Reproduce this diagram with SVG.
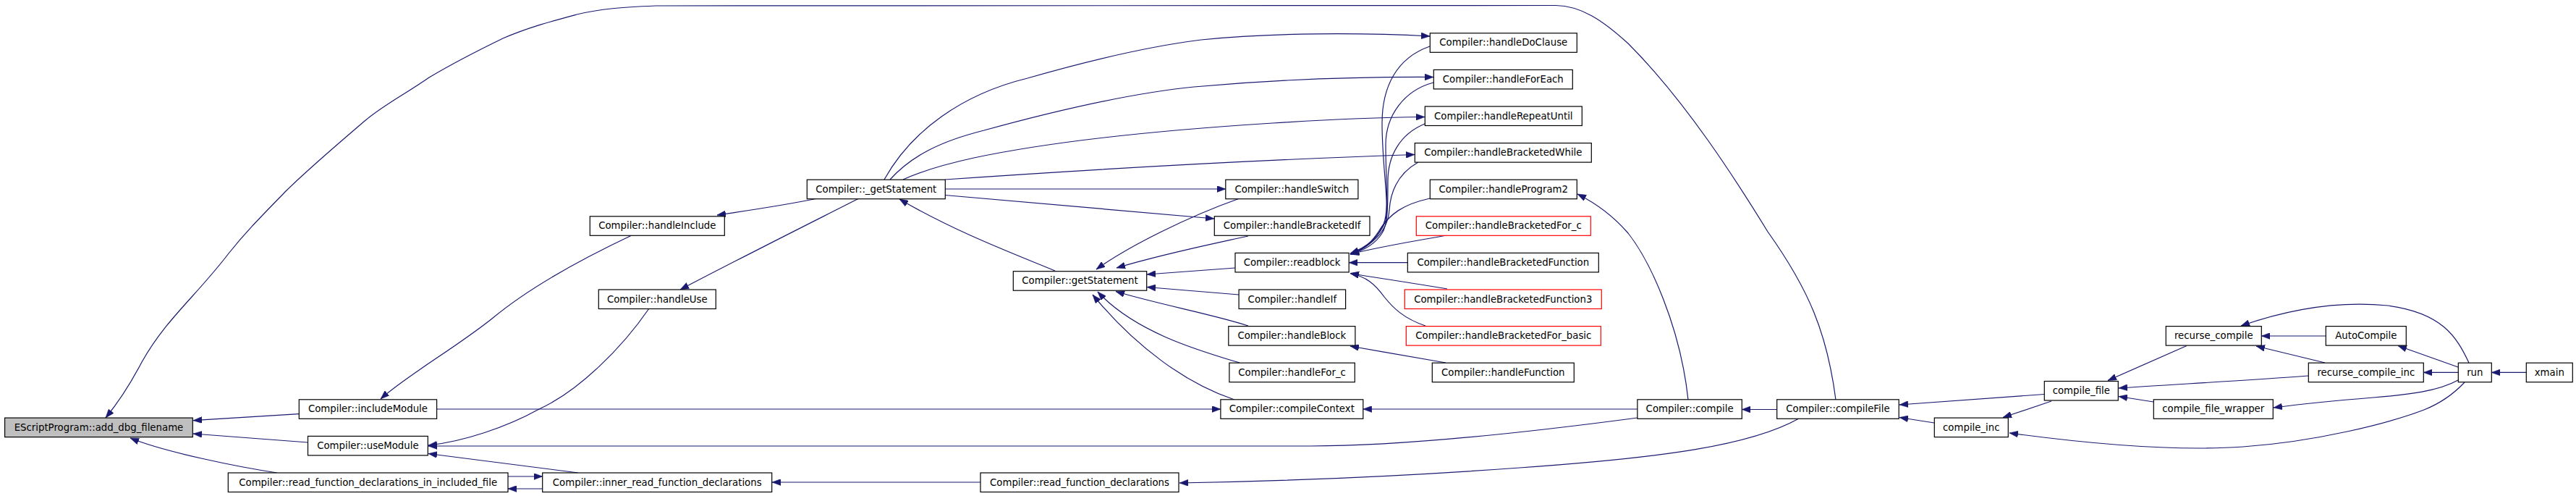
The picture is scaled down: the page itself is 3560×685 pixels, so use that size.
<svg xmlns="http://www.w3.org/2000/svg" width="3560" height="685" viewBox="0 0 3560 685">
<style>
.n rect{fill:#fff;stroke:#000;stroke-width:1.2}
.n.red rect{stroke:#ff0000}
.n.root rect{fill:#bfbfbf}
.n text{font-family:"DejaVu Sans","Liberation Sans",sans-serif;font-size:13.3px;text-anchor:middle;fill:#000}
#edges path{fill:none;stroke:#191970;stroke-width:1.2;marker-end:url(#a)}
</style>
<defs>
<marker id="a" markerUnits="userSpaceOnUse" markerWidth="12" markerHeight="9" viewBox="0 0 12 9" refX="12" refY="4.5" orient="auto">
<path d="M0,0 L12,4.5 L0,9 z" fill="#191970" stroke="#191970" stroke-width="0.5"/>
</marker>
</defs>
<rect width="3560" height="685" fill="#fff"/>
<g id="edges">
<path d="M413,571.7 L267,580.7"/>
<path d="M425.5,611 L267,599"/>
<path d="M383,653 C330,645 230,625 180,605"/>
<path d="M2537,552 C2525,460 2500,400 2443,320 C2400,250 2330,140 2250,60 C2215,28 2185,8 2150,7.5 L906,8 C860,10 830,12 797,20 C760,30 730,38 695,53 C660,70 630,85 593,107 C560,130 530,145 504,167 C460,205 430,230 396,263 C360,300 340,320 316,350 C270,410 230,440 196,500 C175,540 160,560 146,577"/>
<path d="M873,325 C820,350 740,390 680,440 C630,480 560,520 526,551"/>
<path d="M897,426 C860,480 800,540 745,565 C700,590 640,610 592,615"/>
<path d="M2263,577 C2150,592 1950,616 1811,616 L592,616"/>
<path d="M702,658 L749.7,658"/>
<path d="M749.7,675 L702,675"/>
<path d="M799,653 L592,626.5"/>
<path d="M1355,666 L1067,666"/>
<path d="M2486,578 C2420,615 2300,632 2100,646 C1950,657 1800,664 1630,667"/>
<path d="M1130,274 C1090,282 1040,290 991,297"/>
<path d="M1187,274 C1100,318 1020,358 940,400"/>
<path d="M1458,374 C1400,350 1320,320 1243,275"/>
<path d="M1222,248 C1260,180 1330,130 1420,108 C1500,85 1580,65 1660,55 C1760,45 1880,45 1976,50"/>
<path d="M1230,248 C1260,215 1300,195 1360,180 C1440,158 1550,130 1650,120 C1760,110 1880,106 1981,106.5"/>
<path d="M1248,248 C1270,238 1300,228 1346,218 C1450,196 1600,180 1759,170 C1850,164 1920,162 1969,161.5"/>
<path d="M1306,248 C1450,238 1700,222 1955,213.5"/>
<path d="M1306,261 L1693.8,261"/>
<path d="M1306,269.5 L1678,302"/>
<path d="M1713,274 C1640,300 1560,340 1515,372"/>
<path d="M1725,326 C1680,336 1610,350 1543,370"/>
<path d="M1707,370 L1585,379"/>
<path d="M1712,407 L1585,396.5"/>
<path d="M1725,450 C1680,435 1600,420 1542,402.5"/>
<path d="M1713,501 C1660,485 1570,460 1517,403"/>
<path d="M1706,552 C1640,530 1570,480 1510,407"/>
<path d="M1976,64 C1930,80 1910,120 1910,170 C1910,230 1920,280 1915,305 C1905,330 1885,343 1866,350"/>
<path d="M1981,114 C1940,125 1915,160 1915,200 C1915,250 1920,290 1912,310 C1900,335 1885,345 1866,351"/>
<path d="M1969,171 C1935,185 1918,215 1918,250 C1918,285 1918,310 1910,322 C1900,338 1885,346 1866,351"/>
<path d="M1960,224 C1935,238 1922,260 1920,290 C1918,320 1895,340 1866,351"/>
<path d="M1976,274 C1940,282 1920,295 1905,320 C1895,335 1885,345 1866,351"/>
<path d="M2000,325 C1960,332 1910,340 1866,351"/>
<path d="M1945,362.7 L1864.2,362.7"/>
<path d="M2000,399 C1960,392 1910,385 1866,377.5"/>
<path d="M1970,450 C1940,440 1925,425 1913,410 C1900,392 1888,382 1866,377.5"/>
<path d="M1998,501 C1960,494 1910,486 1866,478"/>
<path d="M603.6,565 L1686.9,565"/>
<path d="M2263,565 L1883.8,565"/>
<path d="M2333,552 C2322,450 2280,360 2250,322 C2225,293 2200,278 2180,268"/>
<path d="M2455.7,565.5 L2407.3,565.5"/>
<path d="M2825,544.5 L2625,559"/>
<path d="M2673,584 L2625,576.5"/>
<path d="M2835,554 L2768,576.5"/>
<path d="M3022,477.5 L2913,525.5"/>
<path d="M3190,519 C3100,526 3000,531 2928,536"/>
<path d="M2976,555 L2928,547.5"/>
<path d="M3214.3,464 L3125.3,464"/>
<path d="M3213,501 L3118,478"/>
<path d="M3412,501 C3395,465 3375,432 3300,422 C3230,415 3160,428 3097,450"/>
<path d="M3397,507 L3314,477.5"/>
<path d="M3397.3,514.4 L3349.3,514.4"/>
<path d="M3491.3,514.4 L3443.3,514.4"/>
<path d="M3397,525 C3370,540 3330,545 3280,549 C3230,553 3180,558 3142,563"/>
<path d="M3406,528 C3390,545 3370,558 3350,566 C3300,585 3200,610 3100,617 C3000,624 2880,612 2777,598"/>
</g>
<g id="n_add_dbg_filename" class="n root"><rect x="6.6" y="577.1" width="259.7" height="26.5"/><text x="136.45" y="594.6">EScriptProgram::add_dbg_filename</text></g>
<g id="n_includeModule" class="n"><rect x="413.3" y="551.8" width="190.3" height="26.5"/><text x="508.45" y="569.3">Compiler::includeModule</text></g>
<g id="n_useModule" class="n"><rect x="425.5" y="602.4" width="165.8" height="26.5"/><text x="508.4" y="619.9">Compiler::useModule</text></g>
<g id="n_read_in_included" class="n"><rect x="315.3" y="653" width="386.7" height="26.5"/><text x="508.65" y="670.5">Compiler::read_function_declarations_in_included_file</text></g>
<g id="n_inner_read" class="n"><rect x="749.7" y="653" width="317" height="26.5"/><text x="908.2" y="670.5">Compiler::inner_read_function_declarations</text></g>
<g id="n_read_fd" class="n"><rect x="1355" y="653" width="274" height="26.5"/><text x="1492" y="670.5">Compiler::read_function_declarations</text></g>
<g id="n_handleInclude" class="n"><rect x="815.3" y="298.8" width="186" height="26.5"/><text x="908.3" y="316.3">Compiler::handleInclude</text></g>
<g id="n_handleUse" class="n"><rect x="827.3" y="400" width="162" height="26.5"/><text x="908.3" y="417.5">Compiler::handleUse</text></g>
<g id="n__getStatement" class="n"><rect x="1115.3" y="248.2" width="191" height="26.5"/><text x="1210.8" y="265.7">Compiler::_getStatement</text></g>
<g id="n_getStatement" class="n"><rect x="1400.3" y="374.7" width="184.4" height="26.5"/><text x="1492.5" y="392.2">Compiler::getStatement</text></g>
<g id="n_handleSwitch" class="n"><rect x="1693.8" y="248.2" width="183.1" height="26.5"/><text x="1785.35" y="265.7">Compiler::handleSwitch</text></g>
<g id="n_handleBracketedIf" class="n"><rect x="1678.3" y="298.8" width="214.7" height="26.5"/><text x="1785.65" y="316.3">Compiler::handleBracketedIf</text></g>
<g id="n_readblock" class="n"><rect x="1707" y="349.4" width="157.2" height="26.5"/><text x="1785.6" y="366.9">Compiler::readblock</text></g>
<g id="n_handleIf" class="n"><rect x="1712.1" y="400" width="147.5" height="26.5"/><text x="1785.85" y="417.5">Compiler::handleIf</text></g>
<g id="n_handleBlock" class="n"><rect x="1697.8" y="450.6" width="175.1" height="26.5"/><text x="1785.35" y="468.1">Compiler::handleBlock</text></g>
<g id="n_handleFor_c" class="n"><rect x="1698.9" y="501.2" width="173.4" height="26.5"/><text x="1785.6" y="518.7">Compiler::handleFor_c</text></g>
<g id="n_compileContext" class="n"><rect x="1686.9" y="551.8" width="196.9" height="26.5"/><text x="1785.35" y="569.3">Compiler::compileContext</text></g>
<g id="n_handleDoClause" class="n"><rect x="1976.3" y="45.8" width="203" height="26.5"/><text x="2077.8" y="63.3">Compiler::handleDoClause</text></g>
<g id="n_handleForEach" class="n"><rect x="1981.3" y="96.4" width="192" height="26.5"/><text x="2077.3" y="113.9">Compiler::handleForEach</text></g>
<g id="n_handleRepeatUntil" class="n"><rect x="1969.3" y="147" width="217" height="26.5"/><text x="2077.8" y="164.5">Compiler::handleRepeatUntil</text></g>
<g id="n_handleBracketedWhile" class="n"><rect x="1955.3" y="197.6" width="244" height="26.5"/><text x="2077.3" y="215.1">Compiler::handleBracketedWhile</text></g>
<g id="n_handleProgram2" class="n"><rect x="1976.3" y="248.2" width="203" height="26.5"/><text x="2077.8" y="265.7">Compiler::handleProgram2</text></g>
<g id="n_handleBracketedFor_c" class="n red"><rect x="1957.3" y="298.8" width="241" height="26.5"/><text x="2077.8" y="316.3">Compiler::handleBracketedFor_c</text></g>
<g id="n_handleBracketedFunction" class="n"><rect x="1945.3" y="349.4" width="264" height="26.5"/><text x="2077.3" y="366.9">Compiler::handleBracketedFunction</text></g>
<g id="n_handleBracketedFunction3" class="n red"><rect x="1941.3" y="400" width="272" height="26.5"/><text x="2077.3" y="417.5">Compiler::handleBracketedFunction3</text></g>
<g id="n_handleBracketedFor_basic" class="n red"><rect x="1943.3" y="450.6" width="269" height="26.5"/><text x="2077.8" y="468.1">Compiler::handleBracketedFor_basic</text></g>
<g id="n_handleFunction" class="n"><rect x="1979.3" y="501.2" width="196" height="26.5"/><text x="2077.3" y="518.7">Compiler::handleFunction</text></g>
<g id="n_compile" class="n"><rect x="2262.9" y="551.8" width="144.4" height="26.5"/><text x="2335.1" y="569.3">Compiler::compile</text></g>
<g id="n_compileFile" class="n"><rect x="2455.7" y="551.8" width="168.5" height="26.5"/><text x="2539.95" y="569.3">Compiler::compileFile</text></g>
<g id="n_compile_inc" class="n"><rect x="2673.3" y="577.1" width="102" height="26.5"/><text x="2724.3" y="594.6">compile_inc</text></g>
<g id="n_compile_file" class="n"><rect x="2825.3" y="526.5" width="102" height="26.5"/><text x="2876.3" y="544">compile_file</text></g>
<g id="n_recurse_compile" class="n"><rect x="2993.3" y="450.6" width="132" height="26.5"/><text x="3059.3" y="468.1">recurse_compile</text></g>
<g id="n_AutoCompile" class="n"><rect x="3214.3" y="450.6" width="111" height="26.5"/><text x="3269.8" y="468.1">AutoCompile</text></g>
<g id="n_recurse_compile_inc" class="n"><rect x="3190.3" y="501.2" width="159" height="26.5"/><text x="3269.8" y="518.7">recurse_compile_inc</text></g>
<g id="n_compile_file_wrapper" class="n"><rect x="2976.3" y="551.8" width="165" height="26.5"/><text x="3058.8" y="569.3">compile_file_wrapper</text></g>
<g id="n_run" class="n"><rect x="3397.3" y="501.2" width="46" height="26.5"/><text x="3420.3" y="518.7">run</text></g>
<g id="n_xmain" class="n"><rect x="3491.3" y="501.2" width="64" height="26.5"/><text x="3523.3" y="518.7">xmain</text></g>
</svg>
